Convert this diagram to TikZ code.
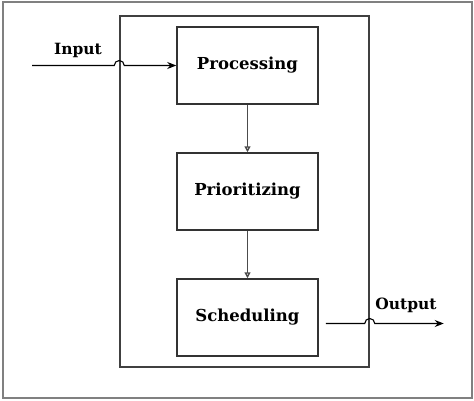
\documentclass[tikz,border=0pt]{standalone}
\usepackage{fontspec}
\setmainfont{DejaVu Serif}
\usetikzlibrary{positioning, arrows.meta}
\tikzset{
    stage box/.style={
        draw=black!80,
        line width=1.5pt,
        minimum width=141pt,
        minimum height=77pt,
        font=\fontsize{16.5}{19}\selectfont\bfseries
    },
    frame box/.style={
        draw=black!75,
        line width=1.5pt,
        minimum width=249pt,
        minimum height=351pt
    },
    io label/.style={font=\fontsize{15.5}{18}\selectfont\bfseries},
    io line/.style={line width=1.1pt, -{Stealth[length=9pt,width=7pt]}},
    flow/.style={line width=1.4pt, draw=black!70, -{Triangle[open,length=6pt,width=6pt]}}
}

\begin{document}
\begin{tikzpicture}[x=1pt,y=1pt,node distance=47.5pt]
  \useasboundingbox (0,0) rectangle (474,400);
  \draw[black!50, line width=2pt] (3,2) rectangle (472,398);
  \node[frame box] (sys) at (244.5,208.5) {};
  \node[stage box] (proc) at (247.5,334.5) {Processing};
  \node[stage box,below=of proc] (prio) {Prioritizing};
  \node[stage box,below=of prio] (sched) {Scheduling};
  \foreach \s/\t in {proc/prio,prio/sched}
    \draw[flow] (\s.south) -- (\t.north);
  % input, hopping over the frame
  \node[io label] (inlab) at (78,350) {Input};
  \coordinate (inL) at (32,334.5);
  \coordinate (hopA) at (sys.west |- inL);
  \draw[io line] (inL) -- ([xshift=-5pt]hopA) arc[start angle=180,end angle=0,radius=5pt] -- (proc.west);
  % output
  \node[io label] (outlab) at (406,95) {Output};
  \coordinate (outS) at ([shift={(7pt,-6pt)}]sched.east);
  \coordinate (hopB) at (sys.east |- outS);
  \coordinate (outE) at ([xshift=118pt]outS);
  \draw[io line] (outS) -- ([xshift=-5pt]hopB) arc[start angle=180,end angle=0,radius=5pt] -- (outE);
\end{tikzpicture}
\end{document}
